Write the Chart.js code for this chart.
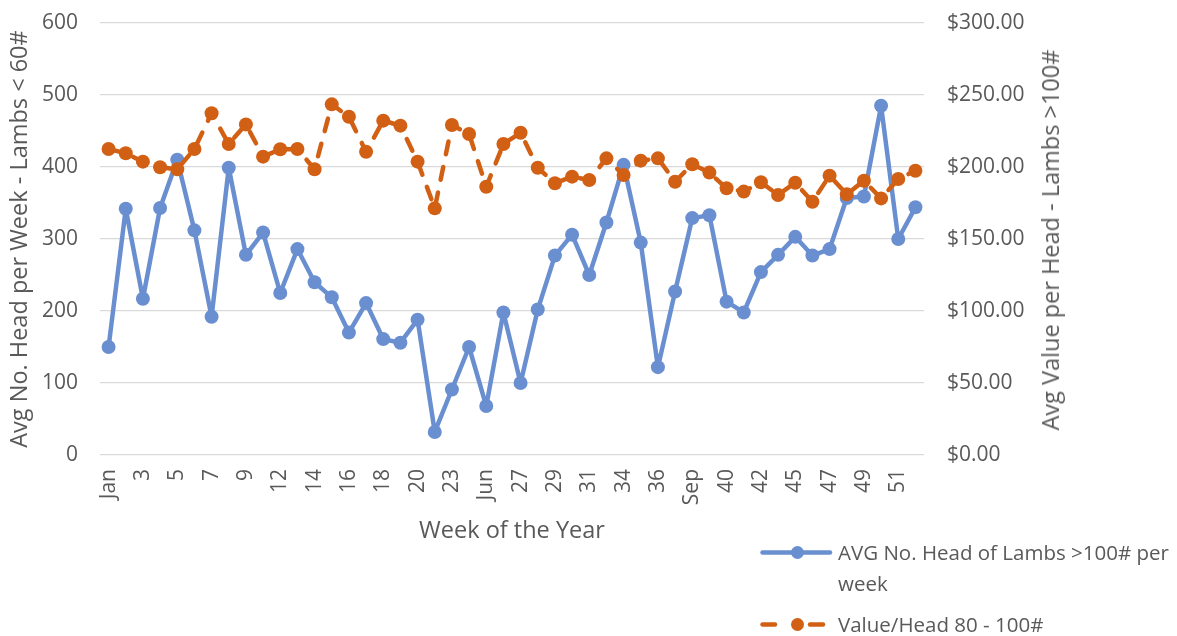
<!DOCTYPE html>
<html>
<head>
<meta charset="utf-8">
<title>Lambs: weekly head count and value per head</title>
<script src="https://cdn.jsdelivr.net/npm/chart.js@4.4.1/dist/chart.umd.min.js"></script>
<style>
  html, body { margin: 0; padding: 0; background: #ffffff; }
  #wrap { position: relative; width: 1177px; height: 636px; font-family: 'Open Sans', sans-serif; color: #595959; overflow: hidden; }
  #chart-box { position: absolute; left: 0; top: 0; width: 1177px; height: 636px; }
  #y2-title { position: absolute; left: 1050px; top: 240px; transform: translate(-50%, -50%) rotate(-90deg);
              white-space: nowrap; font-size: 23.5px; line-height: 28px; }
  #legend { position: absolute; left: 760px; top: 537px; width: 425px; }
  .item { display: flex; align-items: flex-start; margin-bottom: 10px; }
  .item svg { flex: none; width: 78px; height: 31px; }
  .item span { display: block; width: 345px; font-size: 20.5px; line-height: 31px; }
</style>
</head>
<body>
<div id="wrap">
  <div id="chart-box"><canvas id="c"></canvas></div>
  <div id="y2-title"></div>
  <div id="legend"></div>
</div>
<script>
// Week labels along the x axis (every other one is printed)
const weeks = ['Jan','2','3','4','5','6','7','8','9','11','12','13','14','15','16','17','18','19','20','22',
               '23','24','Jun','26','27','28','29','30','31','33','34','35','36','37','Sep','39','40','41','42','44',
               '45','46','47','48','49','50','51','52'];

// Average number of head per week (left axis)
const headCount = [150, 342, 217, 343, 410, 312, 192, 399, 278, 309,
                   225, 286, 240, 219, 170, 211, 161, 156, 188, 32,
                   91, 150, 68, 198, 100, 202, 277, 306, 250, 323,
                   403, 295, 122, 227, 329, 333, 213, 198, 254, 278,
                   303, 277, 286, 357, 359, 485, 300, 344];

// Value per head in dollars (right axis)
const valuePerHead = [212.5, 209.5, 203.7, 199.8, 198.4, 212.5, 237.3, 216.0, 229.6, 207.2,
                      212.3, 212.5, 198.4, 243.5, 234.9, 210.6, 232.2, 228.7, 203.7, 171.3,
                      229.2, 222.9, 186.3, 216.0, 223.8, 199.5, 188.7, 193.3, 191.0, 206.0,
                      194.4, 204.4, 206.0, 189.8, 201.9, 196.1, 185.2, 182.9, 189.4, 180.6,
                      189.1, 175.9, 194.0, 181.0, 190.5, 178.2, 191.7, 197.4];

// Axis tick values
const headTicks = [0, 100, 200, 300, 400, 500, 600];
const valueTicks = [0, 50, 100, 150, 200, 250, 300];

const seriesNames = ['AVG No. Head of Lambs >100# per week', 'Value/Head 80 - 100#'];
const axisTitles = {
  x: 'Week of the Year',
  y: 'Avg No. Head per Week - Lambs < 60#',
  y1: 'Avg Value per Head - Lambs >100#'
};

const BLUE = '#6A8FD0';
const ORANGE = '#D26014';
const TEXT = '#595959';
const GRID = '#D9D9D9';
const FONT = "'Open Sans', sans-serif";

Chart.defaults.font.family = FONT;
Chart.defaults.color = TEXT;

const chart = new Chart(document.getElementById('c'), {
  type: 'line',
  data: {
    labels: weeks,
    datasets: [
      {
        label: seriesNames[0],
        data: headCount,
        yAxisID: 'y',
        borderColor: BLUE,
        backgroundColor: BLUE,
        borderWidth: 4.5,
        borderJoinStyle: 'round',
        borderCapStyle: 'round',
        pointRadius: 7,
        pointBackgroundColor: BLUE,
        pointBorderColor: BLUE,
        pointBorderWidth: 0,
        tension: 0,
        order: 1
      },
      {
        label: seriesNames[1],
        data: valuePerHead,
        yAxisID: 'y1',
        borderColor: ORANGE,
        backgroundColor: ORANGE,
        borderWidth: 4.5,
        borderDash: [13, 13],
        borderJoinStyle: 'round',
        borderCapStyle: 'round',
        pointRadius: 7,
        pointBackgroundColor: ORANGE,
        pointBorderColor: ORANGE,
        pointBorderWidth: 0,
        tension: 0,
        order: 0
      }
    ]
  },
  options: {
    responsive: true,
    maintainAspectRatio: false,
    animation: false,
    layout: { padding: { top: 23, left: 0, right: 0, bottom: 91 } },
    plugins: {
      legend: { display: false },
      tooltip: { enabled: false }
    },
    scales: {
      x: {
        type: 'category',
        offset: true,
        grid: { display: false },
        border: { display: false },
        ticks: {
          autoSkip: false,
          minRotation: 90,
          maxRotation: 90,
          padding: 6,
          color: TEXT,
          font: { size: 21 },
          callback: function (v, i) { return i % 2 === 0 ? this.getLabelForValue(v) : ''; }
        },
        title: { display: true, text: axisTitles.x, color: TEXT, font: { size: 23.5 }, padding: { top: 0, bottom: 0 } },
        afterFit: s => { s.height = 90; }
      },
      y: {
        position: 'left',
        min: headTicks[0],
        max: headTicks[headTicks.length - 1],
        afterBuildTicks: s => { s.ticks = headTicks.map(v => ({ value: v })); },
        grid: { color: GRID, lineWidth: 1.3, drawTicks: true, tickLength: 22, tickColor: 'rgba(0,0,0,0)' },
        border: { display: false },
        ticks: { padding: 0, color: TEXT, font: { size: 21 } },
        title: { display: true, text: axisTitles.y, color: TEXT, font: { size: 23.5 }, padding: { top: 6, bottom: 0 } },
        afterFit: s => { s.width = 100; }
      },
      y1: {
        position: 'right',
        min: valueTicks[0],
        max: valueTicks[valueTicks.length - 1],
        afterBuildTicks: s => { s.ticks = valueTicks.map(v => ({ value: v })); },
        grid: { drawOnChartArea: false, drawTicks: true, tickLength: 23, tickColor: 'rgba(0,0,0,0)' },
        border: { display: false },
        ticks: {
          padding: 0,
          color: TEXT,
          font: { size: 21 },
          callback: v => '$' + Number(v).toFixed(2)
        },
        afterFit: s => { s.width = 253; }
      }
    }
  }
});

// Right axis title reads bottom-to-top, set as rotated text beside the chart
document.getElementById('y2-title').textContent = axisTitles.y1;

// Legend built from the dataset styles
function legendSymbol(ds) {
  const ns = 'http://www.w3.org/2000/svg';
  const svg = document.createElementNS(ns, 'svg');
  svg.setAttribute('viewBox', '0 0 78 31');
  const cy = 15.5;
  const seg = (x1, x2) => {
    const l = document.createElementNS(ns, 'line');
    l.setAttribute('x1', x1); l.setAttribute('x2', x2);
    l.setAttribute('y1', cy); l.setAttribute('y2', cy);
    l.setAttribute('stroke', ds.borderColor);
    l.setAttribute('stroke-width', ds.borderWidth);
    l.setAttribute('stroke-linecap', 'round');
    svg.appendChild(l);
  };
  if (ds.borderDash) { seg(2.5, 15); seg(50, 63); } else { seg(2.5, 70); }
  const c = document.createElementNS(ns, 'circle');
  c.setAttribute('cx', 37.5); c.setAttribute('cy', cy); c.setAttribute('r', 6.5);
  c.setAttribute('fill', ds.pointBackgroundColor);
  svg.appendChild(c);
  return svg;
}
const legend = document.getElementById('legend');
chart.data.datasets.forEach(ds => {
  const row = document.createElement('div');
  row.className = 'item';
  row.appendChild(legendSymbol(ds));
  const t = document.createElement('span');
  t.textContent = ds.label;
  row.appendChild(t);
  legend.appendChild(row);
});
</script>
</body>
</html>
